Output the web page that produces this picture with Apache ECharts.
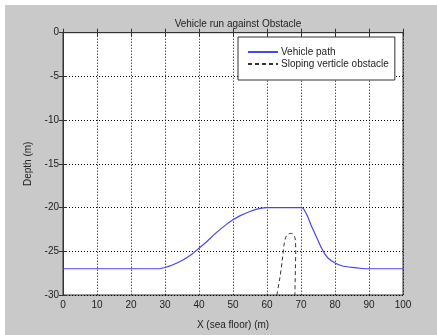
<!DOCTYPE html>
<html><head><meta charset="utf-8">
<script src="https://cdn.jsdelivr.net/npm/echarts@6/dist/echarts.min.js"></script>
<style>html,body{margin:0;padding:0;background:#fff;}#c{position:absolute;left:5px;top:5px;width:432px;height:330px;}</style>
</head><body><div id="c"></div>
<script>
const titleText = 'Vehicle run against Obstacle';
const xTicks = [0,10,20,30,40,50,60,70,80,90,100];
const yTicks = [0,-5,-10,-15,-20,-25,-30];
const pathX = [0,10,20,28,30,32,35,38,40,42,45,48,50,52,55,58,60,65,70,70.5,71,72,73,74,75,76,77,78,80,82,85,88,90,95,100];
const pathY = [-27,-27,-27,-27,-26.85,-26.6,-26.05,-25.3,-24.65,-24.0,-22.9,-21.95,-21.4,-20.95,-20.45,-20.1,-20,-20,-20,-20.05,-20.3,-21.05,-22.05,-22.9,-23.75,-24.6,-25.3,-25.8,-26.35,-26.65,-26.85,-26.97,-27,-27,-27];
const obsX = [62.9,63.8,64.5,65.0,65.5,66.2,67.0,67.8,68.3,68.45,68.35,68.2];
const obsY = [-30,-28,-26,-24.3,-23.4,-23.05,-22.95,-23.1,-23.6,-25,-27,-30];
const names = ['Vehicle path','Sloping verticle obstacle'];

const chart = echarts.init(document.getElementById('c'));
const font = 'Liberation Sans';
const tickCommon = {inside:true,length:4,lineStyle:{color:'#333'}};
chart.setOption({
  backgroundColor:'#c9c9c9',
  animation:false,
  title:{text:titleText,left:228,textAlign:'center',top:9,textStyle:{fontFamily:font,fontSize:10,fontWeight:'normal',color:'#222'}},
  grid:{left:58,top:27.7,width:340,height:265.3,show:true,backgroundColor:'#fff',borderColor:'#333',borderWidth:1},
  legend:{orient:'vertical',left:233,top:32,data:names,backgroundColor:'#fff',borderColor:'#333',borderWidth:1,borderRadius:0,
    padding:[10,6,11,9],itemWidth:30,itemHeight:10,itemGap:2,itemStyle:{opacity:0},
    textStyle:{fontFamily:font,fontSize:10,color:'#222',padding:[0,0,0,-2]}},
  xAxis:[{type:'value',min:0,max:100,interval:10,position:'bottom',
    name:'X (sea floor) (m)',nameLocation:'middle',nameGap:25,nameTextStyle:{fontFamily:font,fontSize:10,color:'#222'},
    axisLine:{show:true,lineStyle:{color:'#333'}},axisTick:tickCommon,
    axisLabel:{margin:5,fontFamily:font,fontSize:10,color:'#222'},
    splitLine:{show:true,lineStyle:{color:'#000',type:[1,2],width:1}}},
    {type:'value',min:0,max:100,interval:10,position:'top',axisLine:{show:true,lineStyle:{color:'#333'}},axisTick:tickCommon,axisLabel:{show:false},splitLine:{show:false}}],
  yAxis:[{type:'value',min:-30,max:0,interval:5,position:'left',
    name:'Depth (m)',nameLocation:'middle',nameGap:28,nameTextStyle:{fontFamily:font,fontSize:10,color:'#222'},
    axisLine:{show:true,lineStyle:{color:'#333'}},axisTick:tickCommon,
    axisLabel:{margin:4,fontFamily:font,fontSize:10,color:'#222'},
    splitLine:{show:true,lineStyle:{color:'#000',type:[1,2],width:1}}},
    {type:'value',min:-30,max:0,interval:5,position:'right',axisLine:{show:true,lineStyle:{color:'#333'}},axisTick:tickCommon,axisLabel:{show:false},splitLine:{show:false}}],
  series:[
    {name:names[0],type:'line',data:pathX.map((x,i)=>[x,pathY[i]]),smooth:0.2,showSymbol:false,symbol:'none',
      lineStyle:{color:'#4646f0',width:1.2},itemStyle:{color:'#4646f0'}},
    {name:names[1],type:'line',data:obsX.map((x,i)=>[x,obsY[i]]),smooth:0.3,showSymbol:false,symbol:'none',
      lineStyle:{color:'#333',width:1,type:[4,3]},itemStyle:{color:'#333'}}
  ]
});
</script></body></html>
